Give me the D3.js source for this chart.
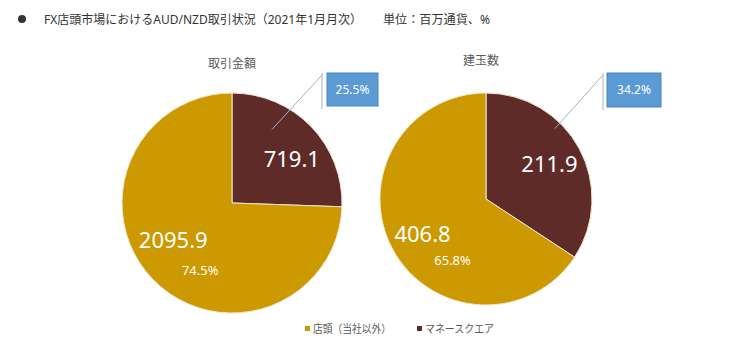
<!DOCTYPE html>
<html>
<head>
<meta charset="utf-8">
<script src="https://cdn.jsdelivr.net/npm/d3@7/dist/d3.min.js"></script>
<style>
  body { margin: 0; background: #fff; }
  svg { display: block; font-family: "Noto Sans", "Noto Sans CJK JP", sans-serif; }
</style>
</head>
<body>
<div id="chart"></div>
<script>
// data
var chartTitles = ["取引金額", "建玉数"];
var categories = ["マネースクエア", "店頭（当社以外）"];
var amountValues = [719.1, 2095.9];
var positionValues = [211.9, 406.8];
var amountShares = ["25.5%", "74.5%"];
var positionShares = ["34.2%", "65.8%"];
var heading = "FX店頭市場におけるAUD/NZD取引状況（2021年1月月次）";
var unitText = "単位：百万通貨、%";

function init() {
    var w = 741,
        h = 352;

    var svg = d3
        .select("#chart")
        .append("svg")
        .attr("width", w)
        .attr("height", h);

    var colorScale = d3
        .scaleOrdinal()
        .domain(categories)
        .range(["#5e2b29", "#cc9900"]);

    // heading
    svg.append("circle")
        .attr("cx", 22).attr("cy", 19).attr("r", 4)
        .attr("fill", "#333");
    svg.append("text")
        .attr("x", 44).attr("y", 24)
        .attr("font-size", "12px")
        .attr("fill", "#333")
        .attr("textLength", 318)
        .attr("lengthAdjust", "spacingAndGlyphs")
        .text(heading);
    svg.append("text")
        .attr("x", 383).attr("y", 24)
        .attr("font-size", "12px")
        .attr("fill", "#333")
        .attr("textLength", 107)
        .attr("lengthAdjust", "spacingAndGlyphs")
        .text(unitText);

    var pies = [
        { title: chartTitles[0], values: amountValues, shares: amountShares,
          cx: 232, cy: 203, r: 110, titleX: 232, titleY: 68,
          nudge: [[6, 8], [-5, -15]], pctOff: [27, 30],
          leader: { r: 0.76, at: 0.31 },
          box: { x: 327, y: 73, w: 51, h: 33, lineX: 322 } },
        { title: chartTitles[1], values: positionValues, shares: positionShares,
          cx: 486, cy: 199, r: 106, titleX: 481, titleY: 65,
          nudge: [[0, 0], [0, 1]], pctOff: [30, 26],
          leader: { r: 0.93, at: 0.36 },
          box: { x: 607, y: 73, w: 54, h: 34, lineX: 603 } }
    ];

    var pie = d3.pie().sort(null).value(d => d.value);

    pies.forEach(p => {
        var rows = categories.map((c, i) => ({ cat: c, value: p.values[i], share: p.shares[i] }));
        var arcs = pie(rows);
        var g = svg.append("g")
            .attr("transform", "translate(" + p.cx + "," + p.cy + ")");

        var arc = d3.arc().innerRadius(0).outerRadius(p.r);
        var labelArc = d3.arc().innerRadius(p.r * 0.68).outerRadius(p.r * 0.68);

        g.selectAll("path")
            .data(arcs)
            .enter()
            .append("path")
            .attr("d", arc)
            .attr("fill", d => colorScale(d.data.cat))
            .attr("stroke", "#f2e6d0")
            .attr("stroke-width", 1);

        // value labels
        g.selectAll(".val")
            .data(arcs)
            .enter()
            .append("text")
            .attr("class", "val")
            .attr("x", (d, i) => labelArc.centroid(d)[0] + p.nudge[i][0])
            .attr("y", (d, i) => labelArc.centroid(d)[1] + p.nudge[i][1])
            .attr("dy", "0.35em")
            .attr("text-anchor", "middle")
            .attr("font-size", "22px")
            .attr("fill", "#fff")
            .text(d => d.data.value.toFixed(1));

        // share of the big slice, under its value
        var big = arcs[1];
        g.append("text")
            .attr("x", labelArc.centroid(big)[0] + p.nudge[1][0] + p.pctOff[0])
            .attr("y", labelArc.centroid(big)[1] + p.nudge[1][1] + p.pctOff[1])
            .attr("dy", "0.35em")
            .attr("text-anchor", "middle")
            .attr("font-size", "13px")
            .attr("fill", "#fff")
            .text(big.data.share);

        // callout for the small slice
        var small = arcs[0];
        var a = small.startAngle + (small.endAngle - small.startAngle) * p.leader.at;
        var ax = p.cx + Math.sin(a) * p.r * p.leader.r,
            ay = p.cy - Math.cos(a) * p.r * p.leader.r;
        var b = p.box;
        svg.append("line")
            .attr("x1", ax).attr("y1", ay)
            .attr("x2", b.lineX).attr("y2", b.y + 2)
            .attr("stroke", "#9fb3c8").attr("stroke-width", 1);
        svg.append("line")
            .attr("x1", b.lineX).attr("y1", b.y)
            .attr("x2", b.lineX).attr("y2", b.y + b.h + 3)
            .attr("stroke", "#9fb3c8").attr("stroke-width", 1);
        svg.append("rect")
            .attr("x", b.x).attr("y", b.y)
            .attr("width", b.w).attr("height", b.h)
            .attr("fill", "#5b9bd5")
            .attr("stroke", "#4a84bb");
        svg.append("text")
            .attr("x", b.x + b.w / 2).attr("y", b.y + b.h / 2)
            .attr("dy", "0.35em")
            .attr("text-anchor", "middle")
            .attr("font-size", "12px")
            .attr("fill", "#fff")
            .text(small.data.share);

        svg.append("text")
            .attr("x", p.titleX).attr("y", p.titleY)
            .attr("text-anchor", "middle")
            .attr("font-size", "12px")
            .attr("fill", "#595959")
            .text(p.title);
    });

    // legend
    var legendItems = [categories[1], categories[0]];
    var lg = svg.selectAll(".legend-item")
        .data(legendItems)
        .enter()
        .append("g")
        .attr("class", "legend-item")
        .attr("transform", (d, i) => "translate(" + (305 + i * 112) + ",329)");
    lg.append("rect")
        .attr("x", 0).attr("y", -3)
        .attr("width", 5).attr("height", 5)
        .attr("fill", d => colorScale(d));
    lg.append("text")
        .attr("x", 8).attr("dy", "0.35em")
        .attr("font-size", "11px")
        .attr("fill", "#595959")
        .attr("textLength", (d, i) => i === 0 ? 78 : 69)
        .attr("lengthAdjust", "spacingAndGlyphs")
        .text(d => d);
}

window.onload = init;
</script>
</body>
</html>
